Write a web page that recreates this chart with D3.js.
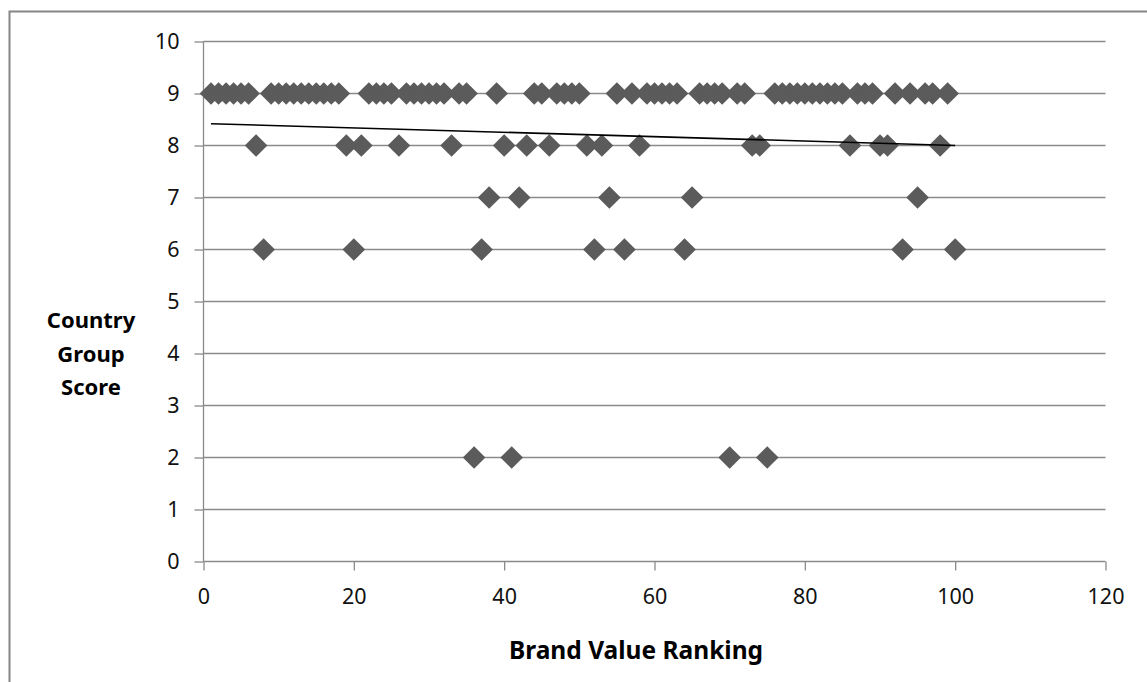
<!DOCTYPE html>
<html><head><meta charset="utf-8">
<script src="https://cdn.jsdelivr.net/npm/d3@7"></script>
<style>body{margin:0;background:#fff}svg{display:block}</style>
</head><body>
<script>
const ranks = [1,2,3,4,5,6,7,8,9,10,11,12,13,14,15,16,17,18,19,20,21,22,23,24,25,26,27,28,29,30,31,32,33,34,35,36,37,38,39,40,41,42,43,44,45,46,47,48,49,50,51,52,53,54,55,56,57,58,59,60,61,62,63,64,65,66,67,68,69,70,71,72,73,74,75,76,77,78,79,80,81,82,83,84,85,86,87,88,89,90,91,92,93,94,95,96,97,98,99,100];
const scores = [9,9,9,9,9,9,8,6,9,9, 9,9,9,9,9,9,9,9,8,6, 8,9,9,9,9,8,9,9,9,9, 9,9,8,9,9,2,6,7,9,8, 2,7,8,9,9,8,9,9,9,9, 8,6,8,7,9,6,9,8,9,9, 9,9,9,6,7,9,9,9,9,2, 9,9,8,8,2,9,9,9,9,9, 9,9,9,9,9,8,9,9,9,8, 8,9,6,9,7,9,9,8,9,6];
const xTicks = [0,20,40,60,80,100,120];
const yTicks = [0,1,2,3,4,5,6,7,8,9,10];
const xTitle = "Brand Value Ranking";
const yTitle = ["Country","Group","Score"];

const W = 1147, H = 682;
const svg = d3.select("body").append("svg").attr("width", W).attr("height", H);
const font = "'Noto Sans', 'Open Sans', sans-serif";

svg.append("rect").attr("x", 9.5).attr("y", 11.5).attr("width", 1160).attr("height", 700)
  .attr("fill", "none").attr("stroke", "#868686").attr("stroke-width", 2);

const x = d3.scaleLinear().domain([0,120]).range([203.5,1105.5]);
const y = d3.scaleLinear().domain([0,10]).range([561.5,41.5]);
const grid = "#8a8a8a";

// gridlines
svg.append("g").selectAll("line").data(yTicks.filter(d=>d>0)).join("line")
  .attr("x1", x(0)).attr("x2", x(120)).attr("y1", d=>y(d)).attr("y2", d=>y(d))
  .attr("stroke", grid).attr("stroke-width", 1.3);

// axes
const xAxis = svg.append("g").attr("transform", `translate(0,${y(0)})`)
  .call(d3.axisBottom(x).tickValues(xTicks).tickSize(9).tickPadding(18));
const yAxis = svg.append("g").attr("transform", `translate(${x(0)},0)`)
  .call(d3.axisLeft(y).tickValues(yTicks).tickSize(9).tickPadding(15));
[xAxis, yAxis].forEach(a => {
  a.select(".domain").remove();
  a.selectAll("line").attr("stroke", grid).attr("stroke-width", 1.3);
  a.selectAll("text").attr("font-family", font).attr("font-size", 21.5).attr("fill", "#111");
});
// axis lines
svg.append("line").attr("x1", x(0)).attr("x2", x(120)).attr("y1", y(0)).attr("y2", y(0)).attr("stroke", grid).attr("stroke-width", 1.3);
svg.append("line").attr("x1", x(0)).attr("x2", x(0)).attr("y1", y(10)).attr("y2", y(0)).attr("stroke", grid).attr("stroke-width", 1.3);

// diamonds
const half = 11.3;
svg.append("g").selectAll("path").data(ranks.map((r,i)=>[r,scores[i]])).join("path")
  .attr("d", d => {
    const cx = x(d[0]), cy = y(d[1]);
    return `M${cx},${cy-half}L${cx+half},${cy}L${cx},${cy+half}L${cx-half},${cy}Z`;
  })
  .attr("fill", "#5b5b5b");

// linear trendline (least squares on the data)
const n = ranks.length;
const mx = d3.mean(ranks), my = d3.mean(scores);
let sxy = 0, sxx = 0;
for (let i=0;i<n;i++){ sxy += (ranks[i]-mx)*(scores[i]-my); sxx += (ranks[i]-mx)**2; }
const slope = sxy/sxx, icpt = my - slope*mx;
const x0 = d3.min(ranks), x1 = d3.max(ranks);
svg.append("line").attr("x1", x(x0)).attr("x2", x(x1))
  .attr("y1", y(icpt+slope*x0)).attr("y2", y(icpt+slope*x1))
  .attr("stroke", "#000").attr("stroke-width", 1.6);

// titles
svg.append("text").attr("x", 636).attr("y", 659).attr("text-anchor", "middle")
  .attr("font-family", font).attr("font-weight", "bold").attr("font-size", 24.5).attr("fill", "#000")
  .text(xTitle);
svg.append("text").attr("font-family", font).attr("font-weight", "bold").attr("font-size", 22)
  .attr("text-anchor", "middle").attr("fill", "#000")
  .selectAll("tspan").data(yTitle).join("tspan")
  .attr("x", 91).attr("y", (d,i)=>328 + i*33.5).text(d=>d);
</script>
</body></html>
